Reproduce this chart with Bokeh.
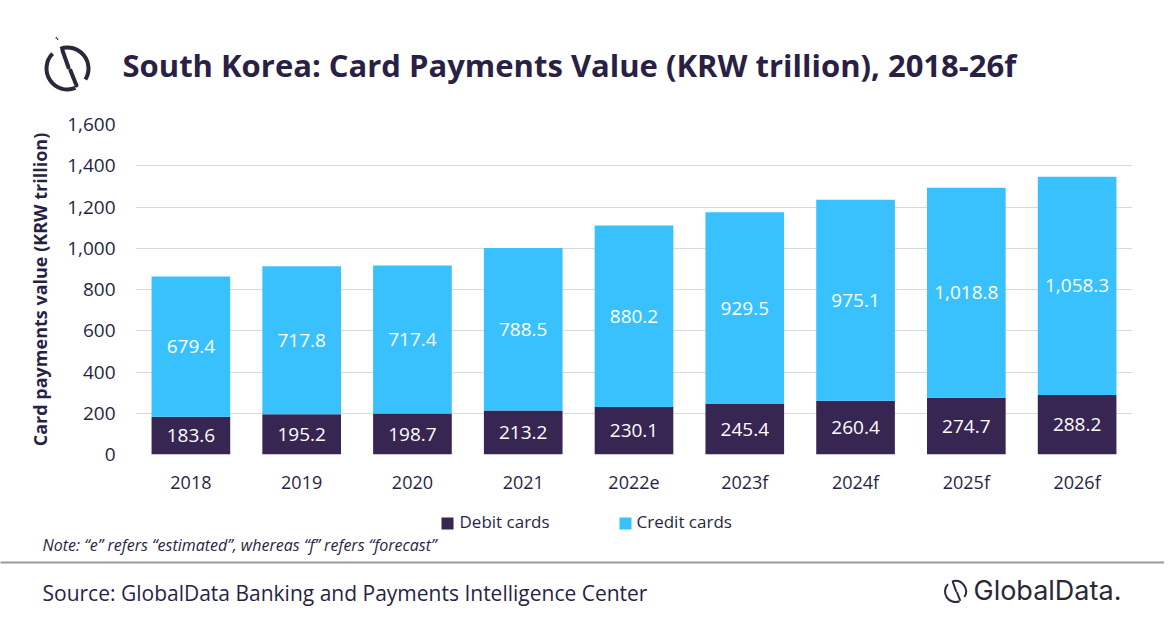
from bokeh.plotting import figure
from bokeh.models import Range1d, FactorRange, NumeralTickFormatter, SingleIntervalTicker
from bokeh.core.properties import value
from bokeh.embed import file_html
from bokeh.resources import INLINE

years = ['2018', '2019', '2020', '2021', '2022e', '2023f', '2024f', '2025f', '2026f']
debit = [183.6, 195.2, 198.7, 213.2, 230.1, 245.4, 260.4, 274.7, 288.2]
credit = [679.4, 717.8, 717.4, 788.5, 880.2, 929.5, 975.1, 1018.8, 1058.3]
series = ['Debit cards', 'Credit cards']

title = 'South Korea: Card Payments Value (KRW trillion), 2018-26f'
note = 'Note: \u201ce\u201d refers \u201cestimated\u201d, whereas \u201cf\u201d refers \u201cforecast\u201d'
source = 'Source: GlobalData Banking and Payments Intelligence Center'

DARK = '#372552'
LIGHT = '#38c1fd'
TXT = '#2a1f45'
LOGO = '#2b2838'
FONT = 'Open Sans'

p = figure(width=1164, height=620, x_range=FactorRange(factors=years), y_range=Range1d(0, 1600),
           output_backend="svg", toolbar_location=None,
           min_border_left=135, min_border_right=32, min_border_top=124, min_border_bottom=166)
p.outline_line_color = None
p.xgrid.grid_line_color = None
p.ygrid.grid_line_color = '#d9d9d9'
p.ygrid.grid_line_width = 1

# header/footer decorations are placed in page pixels (frame spans x 135..1132, y 124..454)
p.extra_y_ranges = {"py": Range1d(628 - 454, 628 - 124)}


def X(px):
    return (px - 135) * len(years) / 997


data = dict(year=years, debit=debit, credit=credit)
rs = p.vbar_stack(['debit', 'credit'], x='year', width=0.71, color=[DARK, LIGHT],
                  line_color=None, source=data)

deb_mid = [d / 2 for d in debit]
cred_mid = [d + c / 2 for d, c in zip(debit, credit)]
p.text(x=years, y=deb_mid, text=[f'{v:,.1f}' for v in debit], text_color='white',
       text_font=value(FONT), text_font_size="19px", text_align="center", text_baseline="middle")
p.text(x=years, y=cred_mid, text=[f'{v:,.1f}' for v in credit], text_color='white',
       text_font=value(FONT), text_font_size="19px", text_align="center", text_baseline="middle")

p.yaxis.ticker = SingleIntervalTicker(interval=200)
p.yaxis.formatter = NumeralTickFormatter(format="0,0")
p.yaxis.axis_label = 'Card payments value (KRW trillion)'
p.yaxis.axis_label_text_font = FONT
p.yaxis.axis_label_text_font_style = "bold"
p.yaxis.axis_label_text_font_size = "18px"
p.yaxis.axis_label_text_color = TXT
p.yaxis.axis_label_standoff = 12
for ax in (p.xaxis[0], p.yaxis[0]):
    ax.axis_line_color = None
    ax.major_tick_line_color = None
    ax.minor_tick_line_color = None
    ax.major_label_text_font = FONT
    ax.major_label_text_color = TXT
p.xaxis.major_label_text_font_size = "18px"
p.yaxis.major_label_text_font_size = "19px"
p.yaxis.major_label_standoff = 14
p.xaxis.major_label_standoff = 9

deco = dict(y_range_name="py", level="overlay")

# legend, drawn by hand below the axis
p.rect(x=[X(447), X(625)], y=[105, 105], width=12, height=12, width_units="screen",
       height_units="screen", fill_color=[DARK, LIGHT], line_color=None, **deco)
p.text(x=[X(459), X(636)], y=[107, 107], text=series, text_font=value(FONT),
       text_font_size="17px", text_color=TXT, text_baseline="middle", **deco)


def logo(cx, cy, s):
    # rough GlobalData mark: two arcs, a broken slash and two dots
    lw = 4 * s
    p.arc(x=[X(cx)], y=[cy], radius=21 * s, radius_units="screen", start_angle=2.36, end_angle=5.1,
          direction="anticlock", line_color=LOGO, line_width=lw, **deco)
    p.arc(x=[X(cx)], y=[cy], radius=21 * s, radius_units="screen", start_angle=1.92, end_angle=-0.55,
          direction="clock", line_color=LOGO, line_width=lw, **deco)
    p.segment(x0=[X(cx - 5 * s), X(cx + 3 * s)], y0=[cy + 18 * s, cy - 2 * s],
              x1=[X(cx + 1 * s), X(cx + 9 * s)], y1=[cy + 1 * s, cy - 17 * s],
              line_color=LOGO, line_width=lw, line_cap="round", **deco)
    p.arc(x=[X(cx - 12 * s), X(cx + 12 * s)], y=[cy + 30 * s, cy - 25 * s],
          radius=1.5 * s, radius_units="screen", start_angle=0, end_angle=6.2832,
          line_color=LOGO, line_width=3 * s, **deco)


# header
logo(67, 560, 1.0)
p.text(x=[X(122)], y=[564], text=[title], text_font=value(FONT), text_font_style="bold",
       text_font_size="31px", text_color=TXT, text_baseline="middle", **deco)

# footer
p.text(x=[X(42)], y=[84], text=[note], text_font=value(FONT), text_font_style="italic",
       text_font_size="16px", text_color=TXT, text_baseline="middle", **deco)
p.segment(x0=[X(0)], y0=[66], x1=[X(1164)], y1=[66], line_color='#9a9a9a', line_width=2, **deco)
p.text(x=[X(42)], y=[36], text=[source], text_font=value(FONT), text_font_size="21px",
       text_color=TXT, text_baseline="middle", **deco)
logo(955, 37, 0.5)
p.text(x=[X(973)], y=[38], text=['GlobalData.'], text_font=value("Inter"), text_font_size="27px",
       text_color=LOGO, text_baseline="middle", **deco)

open("out.html", "w").write(file_html(p, INLINE))
